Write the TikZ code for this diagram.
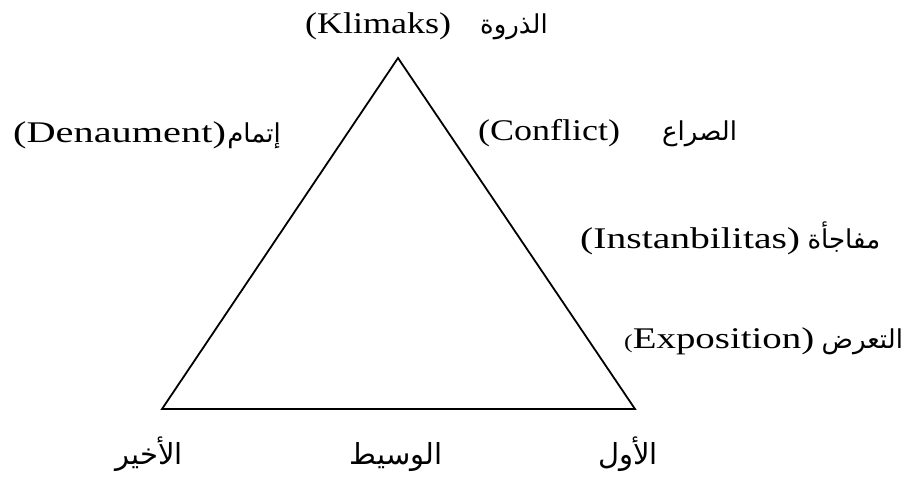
\documentclass[tikz,border=0pt]{standalone}
\usepackage{fontspec}
\usepackage{graphicx}
\setmainfont{Liberation Serif}[FakeStretch=1.2]
\newfontfamily\arabicfont[Script=Arabic]{DejaVu Sans}
\TeXXeTstate=1
\tikzset{
  lat/.style={inner sep=0pt, font=\fontsize{30}{30}\selectfont},
  arab/.style={inner sep=0pt, font=\arabicfont\fontsize{26}{26}\selectfont},
  arabbig/.style={inner sep=0pt, font=\arabicfont\fontsize{29}{29}\selectfont},
  edge/.style={line width=1.8pt, line join=miter}
}
\begin{document}
\begin{tikzpicture}[x=1pt,y=-1pt]
\useasboundingbox (0,0) rectangle (911,479);
\coordinate (L) at (162,409);
\coordinate (R) at (635,409);
\coordinate (T) at (398,58);
\draw[edge] (L) -- (R) -- (T) -- cycle;
% top
\node[lat, anchor=base west] (klim) at (305,33) {(Klimaks)};
\node[arab, anchor=base west] (dhirwa) at (480,33) {\beginR الذروة\endR};
% left
\node[lat, anchor=base west] (den) at (13,142) {\scalebox{1.12}[1]{(Denaument)}};
\node[arab, anchor=base west] (itmam) at ([xshift=1pt]den.base east) {\beginR إتمام\endR};
% right
\node[lat, anchor=base west] (conf) at (478,140) {(Conflict)};
\node[arab, anchor=base west] (sira) at (662,140) {\beginR الصراع\endR};
\node[lat, anchor=base west] (inst) at (580,248) {\scalebox{1.1}[1]{(Instanbilitas)}};
\node[arab, anchor=base west] (mufa) at ([xshift=7pt]inst.base east) {\beginR مفاجأة\endR};
\node[lat, anchor=base west] (expo) at (624,348) {\scalebox{1.08}[1]{{\fontsize{20}{20}\selectfont(}Exposition)}};
\node[arab, anchor=base west] (taarrud) at ([xshift=7pt]expo.base east) {\beginR التعرض\endR};
% bottom
\node[arabbig, anchor=base] (akhir) at (149,464) {\beginR الأخير\endR};
\node[arabbig, anchor=base] (wasit) at (396,464) {\beginR الوسيط\endR};
\node[arabbig, anchor=base] (awwal) at (628,464) {\beginR الأول\endR};
\end{tikzpicture}
\end{document}
